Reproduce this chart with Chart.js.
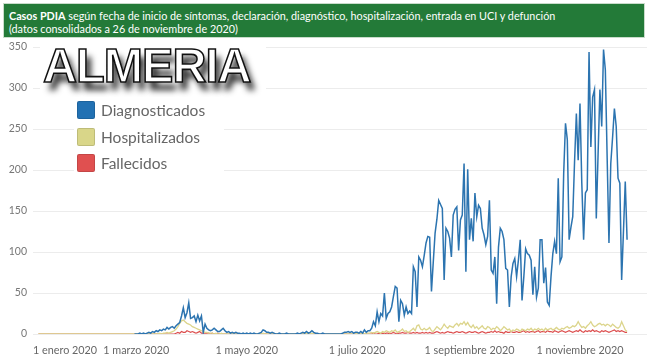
<!DOCTYPE html>
<html><head><meta charset="utf-8">
<script src="https://cdn.jsdelivr.net/npm/chart.js@4.4.1/dist/chart.umd.min.js"></script>
<style>
html,body{margin:0;padding:0;background:#fff;}
#wrap{position:relative;width:649px;height:360px;overflow:hidden;background:#fff;}
canvas{position:absolute;left:0;top:0;}
#banner{position:absolute;left:3px;top:3px;width:642px;height:35px;background:#237a38;border:1px solid #c9dccb;box-sizing:border-box;color:#fff;font-family:Lato,sans-serif;font-size:10.8px;line-height:13px;padding:5px 0 0 5px;white-space:nowrap;}
#banner b{font-weight:700;}
#logo{position:absolute;left:40px;top:41px;width:226px;height:60px;background:#fff;}
#logo span{position:absolute;left:3px;top:-4px;font-family:"Liberation Sans",sans-serif;font-weight:700;font-size:49px;letter-spacing:-1px;color:#fff;-webkit-text-stroke:1.6px #111;text-shadow:5px 8px 6px rgba(0,0,0,0.85);transform:scaleX(0.96);transform-origin:left top;}
#legend{position:absolute;left:74px;top:97px;width:150px;height:80px;background:#fff;}
.li{position:absolute;left:3px;height:20px;font-family:Lato,sans-serif;font-size:15.5px;color:#666;line-height:20px;white-space:nowrap;}
.li i{display:inline-block;width:18px;height:18px;border-radius:2px;vertical-align:top;margin-right:6px;margin-top:1px;box-sizing:border-box;}
</style></head>
<body>
<div id="wrap">
<canvas id="c" width="649" height="360"></canvas>
<div id="banner"><b>Casos PDIA</b> según fecha de inicio de síntomas, declaración, diagnóstico, hospitalización, entrada en UCI y defunción<br>(datos consolidados a 26 de noviembre de 2020)</div>
<div id="logo"><span>ALMERIA</span></div>
<div id="legend"></div>
</div>
<script>
// Day index: 0 = 1 enero 2020 (2020 is a leap year)
const FIRST_DAY = 59;      // first daily value: 29 feb 2020
const FLAT_START = 6;      // start of the flat zero line in January
const seriesNames = ['Diagnosticados', 'Hospitalizados', 'Fallecidos'];
const seriesColors = ['#2c74b0', '#dcd58c', '#dc4e4e'];
const legendColors = ['#2271b3', '#d9d689', '#e05050'];

const tickDays = [3, 60, 121, 182, 244, 305, 342];
const tickLabels = ['1 enero 2020', '1 marzo 2020', '1 mayo 2020', '1 julio 2020', '1 septiembre 2020', '1 noviembre 2020', ''];
const yTicks = [0, 50, 100, 150, 200, 250, 300, 350];

const diagnosticados = [
  0,0,0,1,0,1,0,1,2,1,
  3,2,4,3,5,4,6,5,8,6,
  8,9,7,10,12,14,22,32,20,26,
  38,19,20,22,15,23,16,22,2,12,
  7,5,4,5,7,5,3,3,5,7,
  4,2,3,1,2,1,2,1,1,0,
  1,0,1,0,1,0,1,0,0,1,
  2,5,4,2,2,1,2,1,0,0,
  1,0,0,0,1,0,0,0,0,0,
  1,0,1,2,1,3,1,2,4,2,
  1,1,0,0,1,0,0,0,0,0,
  0,0,0,0,0,1,2,2,3,2,
  3,1,2,2,1,3,1,5,2,4,
  4,7,15,10,27,15,25,22,50,19,
  25,27,33,46,58,56,15,41,37,23,
  33,25,28,25,82,76,33,94,90,82,
  96,111,119,118,52,88,123,140,163,158,
  153,66,129,125,117,94,145,152,155,102,
  139,145,208,76,201,115,141,113,172,143,
  157,153,129,121,109,119,163,78,74,94,
  37,106,129,125,115,80,78,33,70,86,
  92,70,90,115,41,70,104,98,96,90,
  48,82,45,56,115,115,62,81,39,35,
  70,98,113,98,190,88,94,196,257,237,
  115,130,143,210,269,212,281,184,115,172,
  176,344,228,289,298,141,220,298,253,347,
  322,215,111,208,240,275,253,190,184,66,
  125,186,115
];
const hospitalizados = [
  0,0,0,0,0,0,0,0,0,0,
  0,0,0,0,1,0,1,1,2,1,
  2,3,4,6,9,13,16,17,15,13,
  12,11,9,8,7,6,5,4,3,2,
  2,1,1,1,0,1,0,0,1,0,
  0,0,0,0,0,0,0,0,0,0,
  0,0,0,0,0,0,0,0,0,0,
  0,1,0,0,0,0,0,0,0,0,
  0,0,0,0,0,0,0,0,0,0,
  0,0,0,0,0,1,0,0,1,0,
  0,0,0,0,0,0,0,0,0,0,
  0,0,0,0,0,0,0,0,0,0,
  0,0,0,1,0,0,1,0,1,1,
  1,2,1,2,3,2,1,3,2,4,
  3,2,4,3,5,2,3,4,6,3,
  4,2,3,5,7,4,10,11,6,5,
  7,5,6,8,4,3,6,9,7,5,
  8,12,9,7,10,9,8,11,13,10,
  13,12,15,11,14,10,8,11,7,9,
  6,8,10,7,6,9,8,5,7,6,
  9,7,4,6,9,7,5,6,3,5,
  4,6,5,3,6,5,4,6,5,7,
  4,6,5,7,5,6,4,7,5,6,
  7,5,6,8,6,5,7,6,8,9,
  7,8,10,9,11,15,11,8,9,7,
  10,12,15,11,9,10,12,13,11,12,
  10,12,11,9,12,10,8,7,9,15,
  10,5,3
];
const fallecidos = [
  0,0,0,0,0,0,0,0,0,0,
  0,0,0,0,0,0,0,0,0,0,
  0,0,0,1,2,1,3,2,2,4,
  3,2,3,2,1,2,3,1,1,1,
  1,1,0,1,0,0,1,0,0,0,
  0,0,0,0,0,0,0,0,0,0,
  0,0,0,0,0,0,0,0,0,0,
  0,0,0,0,0,0,0,0,0,0,
  0,0,0,0,0,0,0,0,0,0,
  0,0,0,0,0,0,0,0,0,0,
  0,0,0,0,0,0,0,0,0,0,
  0,0,0,0,0,0,0,0,0,0,
  0,0,0,0,0,0,0,0,0,0,
  0,0,1,0,0,1,0,1,0,1,
  1,0,1,2,1,0,1,1,2,1,
  1,2,1,1,2,1,2,1,1,2,
  1,2,1,2,1,1,2,3,2,1,
  2,1,2,3,2,2,1,2,3,2,
  2,3,2,1,2,3,2,2,3,2,
  1,2,3,2,1,2,2,3,2,4,
  2,3,2,2,1,3,2,2,3,2,
  2,3,2,2,3,4,2,3,2,3,
  3,2,3,4,2,3,3,2,4,3,
  3,2,4,3,2,3,4,3,2,3,
  4,3,2,3,4,3,5,3,2,4,
  3,4,3,5,3,4,3,2,4,3,
  4,3,2,3,4,5,3,4,3,4,
  3,2,2
];

function toPoints(values, withFlatLead) {
  const pts = withFlatLead ? [{x: FLAT_START, y: 0}] : [];
  values.forEach((v, i) => pts.push({x: FIRST_DAY + i, y: v}));
  return pts;
}

const chart = new Chart(document.getElementById('c'), {
  type: 'line',
  data: {
    datasets: [
      {label: seriesNames[0], data: toPoints(diagnosticados, false), borderColor: seriesColors[0], borderWidth: 1.5},
      {label: seriesNames[1], data: toPoints(hospitalizados, true), borderColor: seriesColors[1], borderWidth: 1.3},
      {label: seriesNames[2], data: toPoints(fallecidos, true), borderColor: seriesColors[2], borderWidth: 1.2}
    ]
  },
  options: {
    responsive: false,
    animation: false,
    elements: {point: {radius: 0}, line: {tension: 0}},
    layout: {padding: {top: 47, right: 2, left: 0, bottom: 0}},
    plugins: {legend: {display: false}, tooltip: {enabled: false}},
    scales: {
      x: {
        type: 'linear', min: tickDays[0], max: tickDays[tickDays.length - 1],
        grid: {display: false}, border: {display: false},
        afterBuildTicks: s => { s.ticks = tickDays.map(v => ({value: v})); },
        afterFit: s => { s.height = 26; },
        ticks: {
          align: 'inner', autoSkip: false, maxRotation: 0, padding: 2,
          color: '#666', font: {family: 'Lato', size: 10.8},
          callback: (v, i) => tickLabels[i]
        }
      },
      y: {
        min: yTicks[0], max: yTicks[yTicks.length - 1],
        grid: {color: '#ececec', drawTicks: false}, border: {display: false},
        afterBuildTicks: s => { s.ticks = yTicks.map(v => ({value: v})); },
        afterFit: s => { s.width = 33; },
        ticks: {padding: 6, color: '#777', font: {family: 'Lato', size: 10.5}}
      }
    }
  }
});

const leg = document.getElementById('legend');
chart.data.datasets.forEach((ds, i) => {
  const d = document.createElement('div');
  d.className = 'li';
  d.style.top = (3 + i * 26.5) + 'px';
  d.innerHTML = '<i style="background:' + legendColors[i] + ';border:1px solid rgba(0,0,0,0.12)"></i>' + ds.label;
  leg.appendChild(d);
});
</script>
</body></html>
